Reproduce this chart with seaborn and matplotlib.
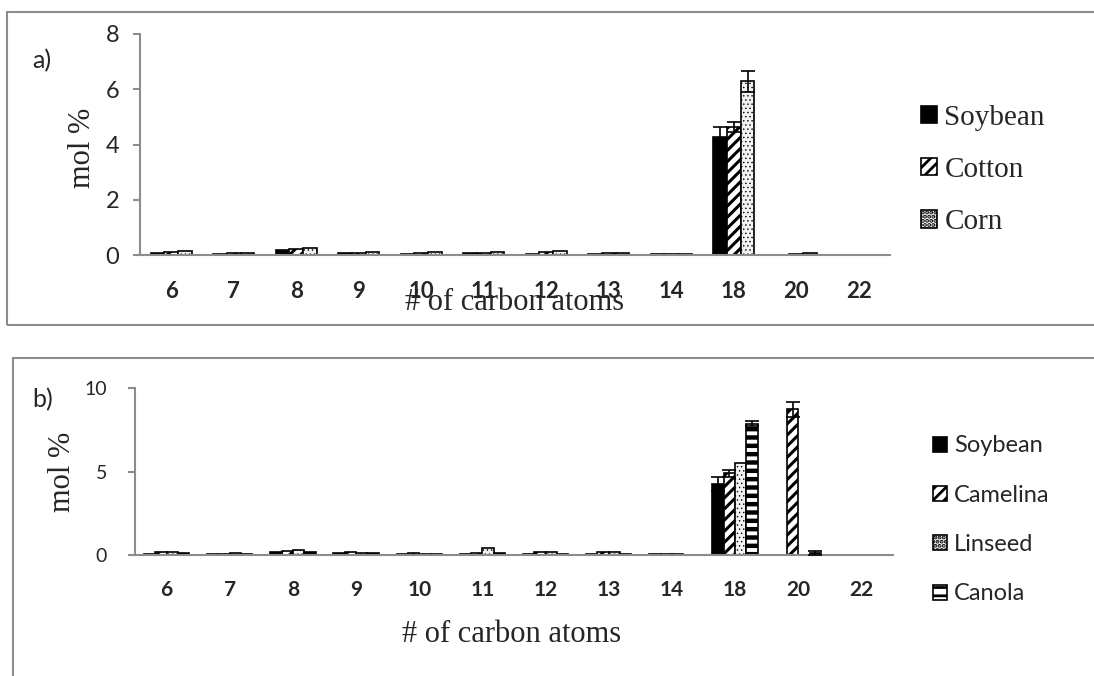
import numpy as np
import pandas as pd
import matplotlib
matplotlib.use("Agg")
import matplotlib.pyplot as plt
from matplotlib.patches import Rectangle, Patch
import seaborn as sns

# === Données ===
carbons = ["6", "7", "8", "9", "10", "11", "12", "13", "14", "18", "20", "22"]

oils_a = ["Soybean", "Cotton", "Corn"]
soybean_a = [0.06, 0.02, 0.18, 0.07, 0.05, 0.07, 0.05, 0.03, 0.02, 4.27, 0.00, 0.00]
cotton_a = [0.12, 0.07, 0.20, 0.08, 0.08, 0.09, 0.12, 0.08, 0.05, 4.64, 0.05, 0.01]
corn_a = [0.15, 0.08, 0.25, 0.10, 0.10, 0.10, 0.14, 0.08, 0.05, 6.29, 0.07, 0.01]
soybean_a_err = [0, 0, 0, 0, 0, 0, 0, 0, 0, 0.35, 0, 0]
cotton_a_err = [0, 0, 0, 0, 0, 0, 0, 0, 0, 0.18, 0, 0]
corn_a_err = [0, 0, 0, 0, 0, 0, 0, 0, 0, 0.38, 0, 0]

oils_b = ["Soybean", "Camelina", "Linseed", "Canola"]
soybean_b = [0.08, 0.03, 0.20, 0.10, 0.07, 0.07, 0.08, 0.05, 0.03, 4.25, 0.00, 0.00]
camelina_b = [0.15, 0.08, 0.25, 0.15, 0.10, 0.12, 0.20, 0.20, 0.08, 4.90, 8.74, 0.00]
linseed_b = [0.15, 0.10, 0.28, 0.12, 0.07, 0.40, 0.20, 0.20, 0.05, 5.50, 0.00, 0.00]
canola_b = [0.10, 0.05, 0.20, 0.10, 0.05, 0.10, 0.08, 0.05, 0.02, 7.85, 0.10, 0.00]
soybean_b_err = [0, 0, 0, 0, 0, 0, 0, 0, 0, 0.40, 0, 0]
camelina_b_err = [0, 0, 0, 0, 0, 0, 0, 0, 0, 0.20, 0.45, 0]
linseed_b_err = [0, 0, 0, 0, 0, 0, 0, 0, 0, 0.00, 0, 0]
canola_b_err = [0, 0, 0, 0, 0, 0, 0, 0, 0, 0.15, 0.12, 0]

# style des barres : (couleur, hachure, épaisseur hachure)
bar_style = {
    "Soybean": ("black", "", 1.0),
    "Cotton": ("white", "///", 2.2),
    "Camelina": ("white", "///", 2.2),
    "Corn": ("#f2f2f2", "....", 0.5),
    "Linseed": ("#f2f2f2", "....", 0.5),
    "Canola": ("white", "--", 3.2),
}

sns.set_theme(style="white")
plt.rcParams["font.family"] = ["Lato", "DejaVu Sans"]
plt.rcParams["hatch.linewidth"] = 2.0

W, H = 1094, 676
fig = plt.figure(figsize=(W / 100, H / 100), dpi=100)


def fx(px):
    return px / W


def fy(py):
    return 1 - py / H


def style_patch(p, oil):
    fc, hatch, hlw = bar_style[oil]
    p.set_facecolor(fc)
    p.set_edgecolor("black")
    p.set_linewidth(1.2)
    p.set_hatch(hatch)
    if hasattr(p, "set_hatch_linewidth"):
        p.set_hatch_linewidth(hlw)


def draw_panel(rect, oils, values, errors, width, ymax, yticks, tick_fs, ytick_fs, pad_x, pad_y):
    ax = fig.add_axes(rect)
    df = pd.DataFrame({
        "carbon": np.tile(carbons, len(oils)),
        "oil": np.repeat(oils, len(carbons)),
        "mol": np.concatenate(values),
    })
    pal = {o: bar_style[o][0] for o in oils}
    sns.barplot(data=df, x="carbon", y="mol", hue="oil", order=carbons, hue_order=oils,
                palette=pal, width=width, errorbar=None, legend=False, ax=ax,
                edgecolor="black", linewidth=1.2, saturation=1)
    for cont, oil, err in zip(ax.containers, oils, errors):
        xs, hs, es = [], [], []
        for bar, e in zip(cont.patches, err):
            style_patch(bar, oil)
            if e > 0:
                xs.append(bar.get_x() + bar.get_width() / 2)
                hs.append(bar.get_height())
                es.append(e)
        if xs:
            ax.errorbar(xs, hs, yerr=es, fmt="none", ecolor="black", elinewidth=1.2,
                        capsize=5, capthick=1.2, zorder=5)
    ax.set_xlim(-0.5, len(carbons) - 0.5)
    ax.set_ylim(0, ymax)
    ax.set_yticks(yticks)
    ax.set_xlabel("")
    ax.set_ylabel("")
    for s in ["top", "right"]:
        ax.spines[s].set_visible(False)
    for s in ["left", "bottom"]:
        ax.spines[s].set_color("#8c8c8c")
        ax.spines[s].set_linewidth(1.5)
    ax.set_xticks(np.arange(len(carbons) + 1) - 0.5, minor=True)
    ax.tick_params(axis="x", which="major", length=0, pad=pad_x, labelsize=tick_fs)
    ax.tick_params(axis="x", which="minor", length=8, width=1.5, color="#8c8c8c", direction="out")
    ax.tick_params(axis="y", which="major", length=5, width=1.5, color="#8c8c8c", direction="out",
                   left=True, pad=pad_y, labelsize=ytick_fs)
    for lab in ax.get_xticklabels():
        lab.set_fontweight("bold")
    return ax


# === Panneau a ===
ax_a = draw_panel([fx(140), fy(255), fx(890 - 140), (255 - 34) / H], oils_a,
                  [soybean_a, cotton_a, corn_a], [soybean_a_err, cotton_a_err, corn_a_err],
                  0.66, 8, [0, 2, 4, 6, 8], 16, 17, 19, 10)

# === Panneau b ===
ax_b = draw_panel([fx(135), fy(555), fx(893 - 135), (555 - 388) / H], oils_b,
                  [soybean_b, camelina_b, linseed_b, canola_b],
                  [soybean_b_err, camelina_b_err, linseed_b_err, canola_b_err],
                  0.72, 10, [0, 5, 10], 15, 14, 18, 15)

serif = ["Liberation Serif", "DejaVu Serif"]

# titres des axes
fig.text(fx(82), fy(148), "mol %", rotation=90, ha="center", va="center", family=serif, fontsize=22)
fig.text(fx(63), fy(472), "mol %", rotation=90, ha="center", va="center", family=serif, fontsize=22)
fig.text(fx(515), fy(310), "# of carbon atoms", ha="center", va="baseline", family=serif, fontsize=22)
fig.text(fx(512), fy(642), "# of carbon atoms", ha="center", va="baseline", family=serif, fontsize=22)

# étiquettes des panneaux
fig.text(fx(42), fy(61), "a)", ha="center", va="center", fontsize=18)
fig.text(fx(43), fy(400), "b)", ha="center", va="center", fontsize=18)

# légendes
handles_a = [Patch(facecolor=bar_style[o][0], edgecolor="black", hatch=bar_style[o][1]) for o in oils_a]
for h, o in zip(handles_a, oils_a):
    style_patch(h, o)
fig.legend(handles_a, oils_a, loc="center left", bbox_to_anchor=(fx(921), fy(170)),
           frameon=False, borderpad=0, borderaxespad=0, handlelength=0.55, handleheight=0.55,
           handletextpad=0.25, labelspacing=0.9, prop={"family": serif, "size": 21})

handles_b = [Patch(facecolor=bar_style[o][0], edgecolor="black", hatch=bar_style[o][1]) for o in oils_b]
for h, o in zip(handles_b, oils_b):
    style_patch(h, o)
fig.legend(handles_b, oils_b, loc="center left", bbox_to_anchor=(fx(933), fy(520)),
           frameon=False, borderpad=0, borderaxespad=0, handlelength=0.6, handleheight=0.6,
           handletextpad=0.3, labelspacing=1.2, prop={"size": 17})

# cadres des panneaux
fig.add_artist(Rectangle((fx(7), fy(325)), 1.05, (325 - 12) / H, transform=fig.transFigure,
                         fill=False, edgecolor="#8c8c8c", linewidth=1.5))
fig.add_artist(Rectangle((fx(13), -0.05), 1.05, fy(358) + 0.05, transform=fig.transFigure,
                         fill=False, edgecolor="#8c8c8c", linewidth=1.5))

plt.savefig("out.png", dpi=100)
